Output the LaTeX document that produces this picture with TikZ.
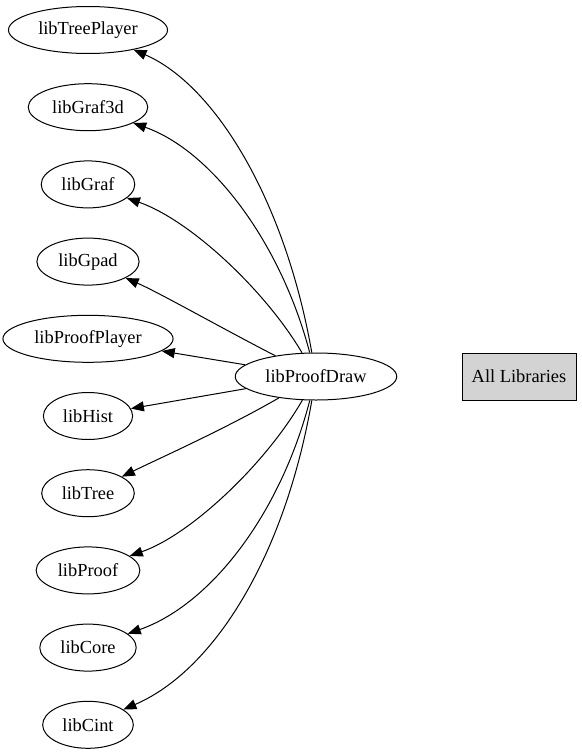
\documentclass[tikz,border=0pt]{standalone}
\usepackage{fontspec}
\setmainfont{Liberation Serif}
\usetikzlibrary{arrows.meta,shapes.geometric}
\definecolor{gvgray}{HTML}{D3D3D3}
\begin{document}
\begin{tikzpicture}[x=1pt,y=-1pt,
  lib/.style={draw, ellipse, line width=1pt, inner xsep=6.5pt, inner ysep=0pt, minimum height=47pt, font=\fontsize{18.4}{22}\selectfont},
  allbox/.style={draw, rectangle, line width=1pt, fill=gvgray, minimum width=114pt, minimum height=47pt, font=\fontsize{18.4}{22}\selectfont},
  edge/.style={draw, line width=1pt, -{Triangle[length=13pt,width=10pt]}}]
\useasboundingbox (0,0) rectangle (581,755);
\node[lib] (tp) at (88,30) {libTreePlayer};
\node[lib] (g3) at (88,107.2) {libGraf3d};
\node[lib] (gr) at (88,184.4) {libGraf};
\node[lib] (gp) at (88,261.6) {libGpad};
\node[lib] (pp) at (88,338.8) {libProofPlayer};
\node[lib] (hi) at (88,416) {libHist};
\node[lib] (tr) at (88,493.2) {libTree};
\node[lib] (pr) at (88,570.4) {libProof};
\node[lib] (co) at (88,647.6) {libCore};
\node[lib] (ci) at (88,724.8) {libCint};
\node[lib] (pd) at (316,376.5) {libProofDraw};
\node[allbox] (all) at (519,376.5) {All Libraries};
\draw[edge] (pd) .. controls (285,200) and (215,85) .. (tp);
\draw[edge] (pd) .. controls (280,240) and (210,150) .. (g3);
\draw[edge] (pd) .. controls (265,290) and (190,220) .. (gr);
\draw[edge] (pd) .. controls (225,330) and (160,293) .. (gp);
\draw[edge] (pd) -- (pp);
\draw[edge] (pd) -- (hi);
\draw[edge] (pd) .. controls (225,429) and (160,458) .. (tr);
\draw[edge] (pd) .. controls (265,465) and (190,535) .. (pr);
\draw[edge] (pd) .. controls (280,515) and (210,605) .. (co);
\draw[edge] (pd) .. controls (285,555) and (215,670) .. (ci);
\end{tikzpicture}
\end{document}
